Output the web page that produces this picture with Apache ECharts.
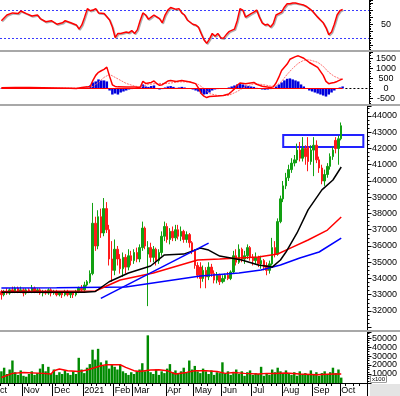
<!DOCTYPE html>
<html><head><meta charset="utf-8">
<script src="https://cdn.jsdelivr.net/npm/echarts@6/dist/echarts.min.js"></script>
<style>html,body{margin:0;padding:0;background:#fff}#c{width:400px;height:396px}</style>
</head><body><div id="c"></div><script>
// ---------- data ----------
const monthLabels = ['Nov','Dec','2021','Feb','Mar','Apr','May','Jun','Jul','Aug','Sep','Oct'];
const monthStartSlot = [8,19,30,41,48,60,70,80,91,102,113,123];
const slotCount = 133;
// [open, high, low, close]
const ohlc = [
[33200,33300,32700,33000],[33000,33300,32900,33200],[33200,33400,33000,33100],[33100,33400,33000,33300],
[33300,33500,33100,33200],[33200,33500,33100,33400],[33400,33500,33100,33200],[33200,33500,33100,33300],
[33300,33400,32900,33100],[33100,33400,33000,33300],[33300,33400,33100,33200],[33200,33600,33100,33400],
[33400,33500,33100,33200],[33200,33400,33100,33300],[33300,33400,33000,33100],[33100,33300,32900,33200],
[33200,33300,33000,33100],[33100,33400,33000,33300],[33300,33400,32900,33100],[33100,33300,33000,33200],
[33200,33300,32900,33000],[33000,33200,32900,33100],[33100,33200,32800,33000],[33000,33300,32900,33200],
[33200,33300,32900,33000],[33000,33200,32800,33100],[33100,33200,32800,33000],[33000,33300,32900,33200],
[33200,33500,33100,33400],[33400,33600,33200,33300],[33300,33800,33200,33600],[33600,33900,33500,33800],
[33800,34500,33700,34300],[34300,38650,34200,37400],[37400,37800,35700,36000],[36000,38200,35800,37800],
[37800,38300,36500,36800],[36800,38950,36600,38300],[38300,38700,36800,37000],[37000,37300,34800,35200],
[35200,36300,33800,34500],[34500,36400,34200,35800],[35800,36000,34800,35200],[35200,35500,34300,34600],
[34600,35600,34100,35300],[35300,35500,34300,34700],[34700,35800,34500,35400],[35400,35700,34800,35100],
[35100,35800,34900,35600],[35600,35900,35000,35200],[35200,36100,35000,35900],[35900,37500,35700,37100],
[37100,37200,35800,36000],[35500,36300,32300,35900],[35900,36200,35000,35300],[35300,36000,35000,35800],
[35800,35900,34800,35100],[35100,35800,34900,35600],[35600,36900,35400,36600],[36600,37500,36300,37200],
[37200,37400,36200,36400],[36400,37100,36100,36900],[36900,37200,36300,36500],[36500,37300,36300,37000],
[37000,37300,36400,36600],[36600,37200,36300,36900],[36900,37000,36200,36400],[36400,36900,36200,36700],
[36700,36800,35900,36200],[36200,36300,35500,35700],[35700,35800,34600,34800],[34800,35000,34000,34200],
[34700,35000,33400,34000],[34000,34800,33800,34500],[34500,34700,33400,34100],[34100,35000,33900,34700],
[34700,34900,34100,34300],[34300,34500,33700,33900],[33900,34400,33700,34200],[34200,34300,33600,33800],
[33800,34200,33700,34000],[34000,34300,33800,34200],[34200,34400,33900,34000],[34000,34500,33900,34400],
[34400,35700,34300,35400],[35400,35800,34800,35000],[35000,36100,34900,35800],[35800,35900,35000,35200],
[35200,35700,34900,35400],[35400,36100,35200,35900],[35900,36000,35100,35300],[35300,35500,34800,35100],
[35100,35600,34900,35300],[35300,35400,34700,34900],[34900,35400,34600,35100],[35100,35200,34500,34700],
[34800,35000,34200,34500],[34500,35100,34300,34900],[34900,36500,34800,35900],[35900,36300,35300,35500],
[35500,37700,35400,37500],[37500,39100,37400,38900],[38900,40000,38700,39700],[39700,40500,39500,40200],
[40200,41000,40000,40700],[40700,41400,40500,41100],[41100,41600,40900,41300],[41300,42300,41100,41900],
[41900,42400,41200,41400],[41400,42700,41200,42000],[42000,42200,41000,41500],[42100,42700,40600,41200],
[41200,42200,41000,41900],[41900,42700,40300,42200],[42200,42500,41100,41300],[41300,41500,40500,40800],
[40800,41000,39800,40000],[40000,40700,39700,40400],[40400,41100,40200,40900],[40900,41700,40700,41500],
[41500,42100,41300,41900],[42500,42700,41700,42000],[42000,42800,41000,42600],[42600,43600,42500,43400]
];
const volume = [
13000,17000,10000,15000,25000,12000,9000,14000,8000,
7000,10000,13000,9000,11000,16000,21000,13000,18000,10000,
15000,9000,12000,10000,14000,11000,9000,13000,10000,
28000,15000,11000,
17000,21000,37000,26000,38000,23000,19000,25000,16000,21000,
18000,15000,20000,13000,11000,9000,12000,10000,13000,15000,22000,13000,
53000,
12000,10000,15000,9000,13000,11000,16000,21000,12000,14000,11000,
13000,17000,12000,25000,15000,19000,13000,
11000,16000,13000,10000,14000,9000,12000,11000,23000,10000,13000,9000,
11000,15000,10000,13000,8000,12000,14000,9000,11000,10000,18000,8000,11000,9000,15000,12000,17000,
13000,10000,14000,11000,9000,12000,8000,13000,10000,11000,9000,14000,10000,12000,8000,11000,13000,10000,12000,17000,11000,15000,6000
];
const volumeMA = [[0,6200],[4,10700],[8,11800],[15,10700],[18,10000],[19,13700],[21,15500],[24,13700],[28,12900],[31,14400],[36,19200],[38,20300],[43,20300],[45,17400],[48,13700],[50,12900],[54,14400],[57,14800],[60,13700],[63,10000],[67,11800],[70,13700],[74,13700],[78,12900],[81,10700],[84,11800],[88,10700],[93,10000],[96,10700],[99,10700],[103,11000],[108,10000],[114,9300],[120,10000],[123,10000]];
const ma50 = [[0,33150],[10,33150],[20,33150],[30,33150],[34,33200],[39,33800],[46,34340],[54,34770],[59,35450],[66,35500],[72,35870],[75,35750],[79,35380],[87,35140],[93,34830],[98,34700],[101,35140],[103,35630],[107,36800],[111,38220],[116,39450],[120,40060],[123,40860]];
const ma100 = [[0,33200],[20,33220],[34,33230],[43,33910],[55,34340],[71,35140],[79,35200],[86,35260],[93,35320],[100,35510],[104,35820],[111,36370],[118,36980],[123,37780]];
const ma200 = [[0,33420],[20,33430],[45,33480],[72,34150],[86,34340],[94,34520],[101,34830],[108,35260],[115,35630],[123,36490]];
const trendLine = [[36,32780],[75,36180]];
const boxSlots = [102,131];
const boxPrices = [42830,42090];
const rsi = [[0,55],[2,63],[4,66],[6,65],[7,68.6],[9,65],[11,61.6],[13,63],[14,58],[16,53.5],[18,55],[20,50],[22,52],[23,55],[25,52],[27,49],[28,43],[29,49],[30,60],[31,72],[32,69],[33,70],[34,72],[35,66],[37,65],[39,56],[40,46],[41,31],[42,37],[43,37],[45,39],[46,38],[47,41],[48,37],[49,42],[50,55],[51,66],[52,63],[53,57],[54,60],[55,63],[57,58],[58,52],[59,63],[60,70],[61,73.5],[63,71],[64,72],[65,66],[66,63],[67,56],[69,50],[70,49],[71,46],[72,37],[73,28],[74,23],[75,29],[76,37],[77,33],[78,37],[79,31],[80,30],[81,35],[82,39.5],[84,43],[85,55],[86,72],[87,70],[88,60],[90,65],[91,67],[92,70],[93,60],[94,52],[95,49],[96,50],[97,46],[98,51],[99,63],[101,67],[102,74],[103,79],[104,79],[105,80],[106,80],[108,78],[109,77],[110,75],[111,72],[112,69],[114,60],[115,56],[116,52],[117,45],[118,35],[119,39],[120,50],[121,63],[122,69],[123,71]];
const rsiLevels = [70,30];
const macd = [[0,40],[5,50],[10,50],[15,40],[20,30],[25,10],[27,0],[29,50],[31,80],[32,100],[33,400],[34,650],[35,800],[36,880],[37,950],[38,1060],[39,600],[40,180],[41,100],[42,80],[45,70],[48,70],[50,50],[51,350],[52,250],[54,300],[55,370],[56,240],[57,160],[58,190],[60,370],[61,400],[63,350],[65,400],[68,320],[70,240],[71,30],[72,-250],[73,-380],[74,-450],[75,-400],[78,-370],[80,-350],[82,-270],[83,-150],[84,-20],[85,160],[86,270],[88,240],[91,300],[92,210],[94,110],[97,50],[98,80],[99,270],[100,560],[101,890],[102,1050],[103,1210],[104,1450],[106,1580],[107,1620],[109,1500],[111,1290],[114,1050],[116,650],[117,350],[118,240],[119,270],[120,300],[121,350],[123,480]];
const macdSignal = [[0,30],[28,20],[31,40],[33,100],[35,300],[37,550],[39,700],[41,550],[43,400],[45,250],[48,120],[50,80],[53,200],[56,250],[60,250],[64,330],[68,330],[71,200],[73,0],[75,-250],[78,-350],[82,-340],[85,-150],[88,100],[91,230],[94,200],[97,120],[99,120],[101,350],[103,700],[105,1000],[107,1250],[109,1400],[111,1420],[114,1300],[116,1100],[118,800],[120,600],[122,480],[123,450]];
const macdHist = [
20,30,40,30,20,30,40,30,20,10,20,30,20,10,0,-10,0,10,20,10,0,-10,-20,-10,0,-10,-20,-10,10,30,40,
50,150,300,350,450,400,400,350,
-100,-300,-250,-300,-200,-150,-100,-50,-30,-20,-20,0,
200,100,80,120,150,0,-50,-30,50,100,120,80,30,50,80,50,20,-20,-50,-100,
-150,-250,-300,-280,-200,-100,-50,-30,-20,0,
20,50,100,150,200,220,200,150,120,100,80,30,-20,-50,-60,-50,-30,-20,
100,200,300,400,480,500,450,400,350,200,100,0,
-100,-150,-200,-250,-300,-350,-400,-300,-200,-100,0,50,100
];

// ---------- build ----------
const cats = [];
for (let i = 0; i < slotCount; i++) {
  const k = monthStartSlot.indexOf(i);
  cats.push(k >= 0 ? monthLabels[k] : 's' + i);
}
const isMonth = (i) => monthStartSlot.indexOf(i) >= 0;
const FONT = 'Liberation Sans, Arial, sans-serif';
const lbl = {color:'#000', fontSize:9, fontFamily:FONT};

const grids = [
  {left:0, right:31, top:0, height:50},
  {left:0, right:31, top:52, height:52},
  {left:0, right:31, top:106, height:224},
  {left:0, right:31, top:332, height:51}
];
const xAxes = [0,1,2].map(g => ({type:'category', gridIndex:g, data:cats, boundaryGap:true,
  axisLine:{show:false}, axisTick:{show:false}, axisLabel:{show:false}, splitLine:{show:false}}));
xAxes.push({type:'category', gridIndex:3, data:cats, boundaryGap:true, position:'bottom',
  axisLine:{show:true, lineStyle:{color:'#000', width:1}},
  axisTick:{show:true, interval:(i)=>isMonth(i), length:13, lineStyle:{color:'#000'}},
  axisLabel:{show:true, interval:(i)=>isMonth(i), align:'left', margin:3, ...lbl,
    formatter:(v)=> monthLabels.indexOf(v)>=0 ? v : ''},
  splitLine:{show:false}});
xAxes.push({type:'category', gridIndex:3, data:cats, boundaryGap:true, position:'bottom',
  axisLine:{show:false}, axisLabel:{show:false},
  axisTick:{show:true, interval:(i)=> (i%5===0 || i%5===3), length:3, lineStyle:{color:'#000'}},
  splitLine:{show:false}});

const yBase = (g) => ({type:'value', gridIndex:g, position:'right', scale:true,
  axisLine:{show:true, lineStyle:{color:'#000'}},
  axisTick:{show:true, length:4, lineStyle:{color:'#000'}},
  minorTick:{show:true, splitNumber:4, length:2, lineStyle:{color:'#000'}},
  splitLine:{show:false}});
const yAxes = [
  Object.assign(yBase(0), {min:13.6, max:84.2, splitNumber:7,
    axisLabel:{...lbl, align:'center', margin:17, formatter:(v)=> v===50?'50':''}}),
  Object.assign(yBase(1), {min:-770, max:1810, splitNumber:5,
    axisLabel:{...lbl, align:'center', margin:17, formatter:(v)=> (v%500===0)? String(v):''}}),
  Object.assign(yBase(2), {min:30830, max:44615, splitNumber:14,
    axisLabel:{...lbl, align:'center', margin:17, formatter:(v)=> (v>=32000 && v%1000===0)? String(v):''}}),
  Object.assign(yBase(3), {min:0, max:56700, interval:10000,
    axisLabel:{...lbl, align:'center', margin:17, formatter:(v)=> (v>0 && v%10000===0)? String(v):''}})
];

const noSym = {showSymbol:false, symbol:'none', silent:true};
const series = [
  // RSI
  Object.assign({type:'line', xAxisIndex:0, yAxisIndex:0, data:rsi, z:5,
    lineStyle:{color:'#ff0000', width:1.5, shadowColor:'rgba(110,110,110,0.55)', shadowOffsetX:1, shadowOffsetY:1, shadowBlur:0},
    markLine:{symbol:'none', silent:true, label:{show:false},
      lineStyle:{color:'#3a3aff', type:[2,2], width:1},
      data: rsiLevels.map(v => ({yAxis:v}))}}, noSym),
  // MACD histogram
  {type:'bar', xAxisIndex:1, yAxisIndex:1, data:macdHist, barCategoryGap:'10%', silent:true,
    itemStyle:{color:'#0000dd'},
    markLine:{symbol:'none', silent:true, label:{show:false},
      data:[
        [{coord:[cats[0],0], lineStyle:{color:'#ff0000', width:1, type:'solid'}},{coord:[cats[123],0]}],
        [{coord:[cats[124],0], lineStyle:{color:'#000', width:1, type:[2,2]}},{coord:[cats[132],0]}]
      ]}},
  Object.assign({type:'line', xAxisIndex:1, yAxisIndex:1, data:macdSignal, z:4,
    lineStyle:{color:'#ff7070', width:1, type:[2,1]}}, noSym),
  Object.assign({type:'line', xAxisIndex:1, yAxisIndex:1, data:macd, z:5,
    lineStyle:{color:'#ff0000', width:1.5}}, noSym),
  // price
  {type:'candlestick', xAxisIndex:2, yAxisIndex:2, barWidth:2, silent:true,
    data: ohlc.map(([o,h,l,c]) => [o,c,l,h]),
    itemStyle:{color:'#12a012', color0:'#ff1a1a', borderColor:'#12a012', borderColor0:'#ff1a1a', borderWidth:1},
    markArea:{silent:true, itemStyle:{color:'rgba(0,0,0,0)', borderColor:'#2222ff', borderWidth:2},
      data:[[{coord:[boxSlots[0], boxPrices[0]]},{coord:[boxSlots[1], boxPrices[1]]}]]}},
  Object.assign({type:'line', xAxisIndex:2, yAxisIndex:2, data:ma200, z:6, lineStyle:{color:'#0000ff', width:1.5}}, noSym),
  Object.assign({type:'line', xAxisIndex:2, yAxisIndex:2, data:ma100, z:6, lineStyle:{color:'#ff0000', width:1.5}}, noSym),
  Object.assign({type:'line', xAxisIndex:2, yAxisIndex:2, data:ma50, z:7, lineStyle:{color:'#000000', width:1.5}}, noSym),
  Object.assign({type:'line', xAxisIndex:2, yAxisIndex:2, data:trendLine, z:7, lineStyle:{color:'#0000ff', width:1.5}}, noSym),
  // volume
  {type:'bar', xAxisIndex:3, yAxisIndex:3, data:volume, barCategoryGap:'12%', silent:true,
    itemStyle:{color:'#008a00'}},
  Object.assign({type:'line', xAxisIndex:3, yAxisIndex:3, data:volumeMA, z:5, lineStyle:{color:'#ff0000', width:1.5}}, noSym)
];

const sep = (y) => ({type:'rect', shape:{x:0, y:y, width:400, height:2}, style:{fill:'#a8a8a8'}, silent:true, z:100});
const graphic = [
  sep(50), sep(104), sep(330),
  {type:'rect', shape:{x:370, y:384, width:30, height:12}, style:{fill:'#e4e4e4'}, silent:true, z:90},
  {type:'text', x:371, y:376, style:{text:'x100', font:'6px '+FONT, fill:'#000', backgroundColor:'#fff', borderColor:'#444', borderWidth:0.6, padding:[0,1,0,1]}, silent:true, z:101},
  {type:'text', x:-7, y:386, style:{text:'Oct', font:'9px '+FONT, fill:'#000'}, silent:true, z:101}
];

const chart = echarts.init(document.getElementById('c'), null, {renderer:'canvas', width:400, height:396});
chart.setOption({animation:false, backgroundColor:'#fff', grid:grids, xAxis:xAxes, yAxis:yAxes, series:series, graphic:graphic});
</script></body></html>
